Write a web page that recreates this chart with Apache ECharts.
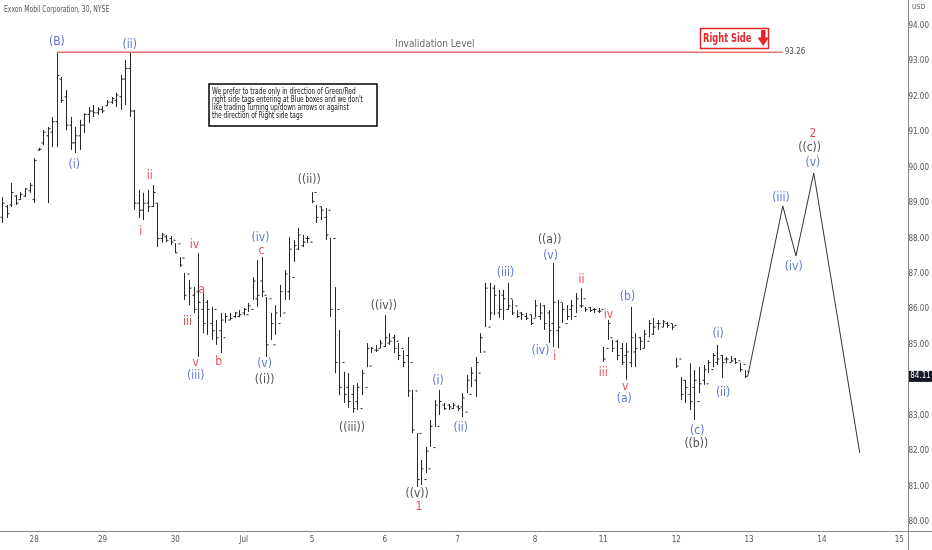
<!DOCTYPE html>
<html><head><meta charset="utf-8">
<script src="https://cdn.jsdelivr.net/npm/echarts@6/dist/echarts.min.js"></script>
<style>html,body{margin:0;padding:0;background:#fff}#c{width:932px;height:550px}</style>
</head><body><div id="c"></div>
<script>
const FONT = "'Liberation Sans Narrow','DejaVu Sans Condensed','Liberation Sans',sans-serif";

const chartTitle = 'Exxon Mobil Corporation, 30, NYSE';
const currency = 'USD';
const dayLabels   = ['28','29','30','Jul','5','6','7','8','11','12','13','14','15'];
const dayStartBar = [8, 23, 39, 54, 69, 85, 101, 118, 133, 149, 165, 181, 198];
const priceTicks  = [80,81,82,83,84,85,86,87,88,89,90,91,92,93,94];

// OHLC bars (one per bar index, starting at index 1)
const open = [
 88.6,88.9,88.95,89.2,89.1,89.2,89.35,
 89.1,90.5,90.7,90.9,91.0,91.3,92.5,92.0,91.2,90.7,90.9,91.2,91.5,91.6,91.55,
 91.65,91.75,91.85,91.9,92.0,92.5,92.8,91.6,89.0,88.8,89.0,88.9,89.0,88.0,88.05,88.0,
 87.95,87.85,87.45,87.0,86.4,86.5,86.0,86.2,85.6,86.0,85.4,85.2,85.7,85.8,85.8,
 85.9,85.85,86.0,86.3,86.8,86.4,86.3,85.0,85.6,85.9,86.5,86.9,87.7,87.8,88.0,87.9,
 89.3,88.9,88.6,88.8,88.0,86.0,84.5,83.8,83.6,83.4,83.2,83.8,84.4,84.85,84.9,84.95,
 85.05,85.2,85.1,84.9,84.7,84.5,83.7,82.5,81.2,81.5,82.1,82.7,83.3,83.3,83.2,83.25,
 83.25,83.1,83.6,84.0,84.2,84.8,85.5,86.6,85.9,86.4,86.0,86.3,86.1,85.9,85.8,85.85,
 85.75,85.8,86.1,85.9,85.6,85.4,86.2,85.6,86.0,85.8,86.1,86.3,86.05,86.0,85.95,86.0,
 84.9,85.2,85.1,84.9,84.7,84.5,84.8,85.2,84.9,85.1,85.3,85.6,85.5,85.6,85.6,85.55,
 84.6,84.0,83.6,83.8,83.4,84.0,83.9,84.3,84.5,84.7,84.6,84.5,84.6,84.55,84.45,84.25
];
const high = [
 89.17,88.95,89.57,89.23,89.31,89.43,89.57,
 90.27,90.56,91.06,91.15,91.43,93.26,92.56,92.19,91.43,91.15,91.35,91.54,91.71,91.77,91.71,
 91.74,91.91,91.99,92.11,92.62,93.04,93.24,91.63,89.37,89.29,89.37,89.51,89.00,88.16,88.10,88.07,
 87.87,87.48,87.03,86.83,86.63,87.59,86.46,86.27,86.07,85.70,85.90,85.90,85.90,85.93,85.98,
 86.04,86.18,86.91,87.39,87.48,86.35,85.90,86.12,86.69,87.11,88.04,87.96,88.30,88.10,88.07,
 89.31,88.95,88.89,88.86,88.02,86.63,85.42,84.24,84.20,83.87,83.92,84.29,85.05,84.94,84.99,85.14,
 85.84,85.33,85.28,85.05,84.85,85.22,83.73,82.51,81.75,82.12,82.88,83.44,83.73,83.36,83.33,83.36,
 83.30,83.64,84.15,84.37,84.66,85.33,86.75,86.75,86.69,86.55,86.55,86.75,86.27,85.98,85.93,85.90,
 85.84,86.27,86.18,86.12,85.98,87.31,86.27,86.18,86.12,86.27,86.46,86.60,86.07,86.07,86.04,86.04,
 84.94,85.70,85.14,85.14,85.05,85.05,86.07,85.33,85.22,85.42,85.70,85.76,85.70,85.70,85.64,85.59,
 84.63,84.09,84.01,84.48,84.29,84.37,84.43,84.57,84.77,85.00,84.71,84.66,84.68,84.63,84.49,84.29
];
const low = [
 88.44,88.58,88.89,88.95,89.09,89.17,89.29,
 89.00,90.48,90.64,89.00,90.58,90.58,91.83,91.06,90.50,90.41,90.50,90.98,91.26,91.43,91.49,
 91.54,91.74,91.80,91.71,91.63,91.77,91.43,88.81,88.58,88.52,88.75,88.89,87.76,87.88,87.90,87.82,
 87.59,87.20,86.27,86.12,85.90,84.66,85.33,85.28,85.14,85.00,84.77,85.62,85.70,85.76,85.78,
 85.84,85.93,86.27,86.07,86.35,84.66,85.14,85.28,85.78,86.27,86.27,87.34,87.68,87.76,87.87,
 89.00,88.44,88.52,87.96,85.79,84.20,83.58,83.36,83.22,83.08,83.16,83.58,84.37,84.77,84.80,84.91,
 84.94,85.00,84.77,84.57,84.37,83.53,82.51,80.99,81.04,81.38,82.12,82.68,83.02,83.16,83.16,83.19,
 83.13,82.96,83.64,83.81,83.53,84.77,85.50,85.70,85.84,85.76,85.70,85.98,85.84,85.76,85.70,85.70,
 85.56,85.78,85.70,85.42,85.05,84.94,84.91,85.62,85.70,85.70,85.90,86.04,85.93,85.93,85.90,85.90,
 84.52,85.14,84.80,84.57,84.43,84.01,84.37,84.37,84.85,84.91,85.22,85.28,85.42,85.50,85.48,85.42,
 84.35,83.44,83.36,83.16,82.88,83.64,83.87,84.20,84.37,84.43,84.06,84.48,84.52,84.46,84.24,84.06
];
const close = [
 89.0,88.7,89.3,89.0,89.25,89.4,89.5,
 90.2,90.52,91.0,91.1,91.3,92.6,91.9,91.2,90.7,90.9,91.2,91.5,91.6,91.55,91.65,
 91.6,91.85,91.95,92.05,92.5,92.8,91.6,89.0,88.8,89.0,88.9,89.3,88.0,88.1,87.95,87.9,
 87.6,87.25,86.4,86.6,86.0,86.2,85.6,86.0,85.4,85.2,85.7,85.8,85.75,85.9,85.85,
 86.0,86.1,86.8,86.4,86.5,85.0,85.6,85.9,86.5,87.0,87.7,87.8,88.1,87.9,88.0,
 89.05,88.6,88.8,88.1,86.0,84.5,83.8,83.6,83.4,83.2,83.8,84.2,84.9,84.9,84.85,85.05,
 85.2,85.1,84.9,84.7,84.5,83.7,82.6,81.2,81.5,82.0,82.7,83.3,83.4,83.2,83.25,83.3,
 83.2,83.5,84.0,84.2,84.5,85.2,86.6,85.9,86.4,86.0,86.3,86.1,85.9,85.8,85.85,85.75,
 85.6,86.1,85.9,85.6,85.4,86.2,85.5,86.0,85.8,86.1,86.3,86.1,86.0,85.97,86.0,85.95,
 84.6,85.6,84.9,84.7,84.5,84.8,85.2,84.9,85.1,85.3,85.6,85.5,85.6,85.65,85.55,85.5,
 84.4,83.6,83.8,83.4,84.0,83.9,84.3,84.5,84.7,84.6,84.5,84.6,84.55,84.5,84.3,84.11
];

const invalidationLevel = 93.26;
const invalidationSpan  = [13, 172.4];          // bar index from (B) to end of line
const invalidationText  = 'Invalidation Level';
const projectionBar   = [164.7, 172.4, 175.3, 179.2, 189.3];
const projectionPrice = [84.11, 88.92, 87.51, 89.85, 81.95];

// wave labels: [bar index, price, text]
const blueLabels = [
 [13.0,93.55,'(B)'],[29.0,93.46,'(ii)'],[16.8,90.08,'(i)'],[43.5,84.12,'(iii)'],
 [57.7,88.02,'(iv)'],[58.6,84.46,'(v)'],[96.7,83.98,'(i)'],[101.7,82.65,'(ii)'],
 [111.5,87.03,'(iii)'],[121.4,87.51,'(v)'],[119.2,84.83,'(iv)'],[137.6,83.47,'(a)'],
 [138.3,86.35,'(b)'],[153.6,82.57,'(c)'],[158.2,85.31,'(i)'],[159.3,83.64,'(ii)'],
 [172.0,89.14,'(iii)'],[174.8,87.20,'(iv)'],[179.0,90.13,'(v)']
];
const redLabels = [
 [33.4,89.76,'ii'],[31.4,88.18,'i'],[43.2,87.82,'iv'],[44.8,86.55,'a'],[41.7,85.65,'iii'],
 [43.5,84.49,'v'],[48.5,84.52,'b'],[57.9,87.65,'c'],[92.5,80.42,'1'],[122.3,84.66,'i'],
 [128.2,86.83,'ii'],[134.1,85.84,'iv'],[133.0,84.21,'iii'],[137.8,83.81,'v'],[179.0,90.95,'2']
];
const blackLabels = [
 [58.6,84.01,'((i))'],[68.4,89.65,'((ii))'],[77.8,82.65,'((iii))'],[84.8,86.10,'((iv))'],
 [92.1,80.79,'((v))'],[121.2,87.96,'((a))'],[153.4,82.20,'((b))'],[178.3,90.56,'((c))']
];
const noteLines = [
 'We prefer to trade only in direction of Green/Red',
 "right side tags entering at Blue boxes and we don't",
 'like trading Turning up/down arrows or against',
 'the direction of Right side tags'
];
const tagText = 'Right Side';

const ohlcData = open.map((o, i) => [i + 1, o, high[i], low[i], close[i]]);
const BAR = '#262626';
function renderOHLC(params, api) {
  const x = api.value(0);
  const h = api.coord([x, api.value(2)]);
  const l = api.coord([x, api.value(3)]);
  const o = api.coord([x, api.value(1)]);
  const c = api.coord([x, api.value(4)]);
  const px = Math.round(h[0]) + 0.5;
  const st = { stroke: BAR, lineWidth: 1 };
  return { type: 'group', children: [
    { type: 'line', shape: { x1: px, y1: h[1], x2: px, y2: Math.max(l[1], h[1] + 1) }, style: st },
    { type: 'line', shape: { x1: px - 2, y1: o[1], x2: px, y2: o[1] }, style: st },
    { type: 'line', shape: { x1: px, y1: c[1], x2: px + 2, y2: c[1] }, style: st }
  ]};
}
function labelSeries(list, color, size, weight) {
  return {
    type: 'scatter', silent: true, symbol: 'circle', symbolSize: 1,
    itemStyle: { color: 'rgba(0,0,0,0)' },
    data: list.map(d => ({ value: [d[0], d[1]], name: d[2] })),
    label: { show: true, position: 'inside', formatter: '{b}', color: color,
      fontSize: size, fontWeight: weight || 'normal', fontFamily: FONT },
    emphasis: { disabled: true }, z: 5
  };
}

const chart = echarts.init(document.getElementById('c'), null, { renderer: 'canvas' });
chart.setOption({
  animation: false,
  backgroundColor: '#fff',
  grid: { left: 0, right: 24, top: 0, bottom: 19 },
  xAxis: {
    type: 'value', min: 0.5, max: 199.33,
    axisLine: { show: false }, axisTick: { show: false }, splitLine: { show: false },
    axisLabel: { customValues: dayStartBar, margin: 5, fontSize: 8, color: '#555', fontFamily: FONT,
      formatter: v => dayLabels[dayStartBar.indexOf(Math.round(v))] || '' }
  },
  yAxis: {
    type: 'value', position: 'right', min: 79.746, max: 94.733,
    axisLine: { show: false }, axisTick: { show: false }, splitLine: { show: false },
    axisLabel: { customValues: priceTicks, margin: 3, fontSize: 8, color: '#555', fontFamily: FONT,
      formatter: v => v.toFixed(2) }
  },
  series: [
    { type: 'custom', renderItem: renderOHLC, data: ohlcData, encode: { x: 0, y: [2, 3] }, silent: true, z: 3 },
    { type: 'line', silent: true, symbol: 'none', z: 4,
      data: [[invalidationSpan[0], invalidationLevel], [invalidationSpan[1], invalidationLevel]],
      lineStyle: { color: '#f07070', width: 1.5 },
      endLabel: { show: true, formatter: invalidationLevel.toFixed(2), color: '#444', fontSize: 8,
        fontFamily: FONT, distance: 2 } },
    { type: 'line', silent: true, symbol: 'none', z: 4,
      data: projectionBar.map((b, i) => [b, projectionPrice[i]]),
      lineStyle: { color: '#333', width: 1 } },
    labelSeries([[96.0, 93.49, invalidationText]], '#444', 10),
    labelSeries(blueLabels, '#3556c4', 12),
    labelSeries(redLabels, '#df1f26', 12),
    labelSeries(blackLabels, '#1e1e1e', 12)
  ]
});

const lastPrice = close[close.length - 1];
const tagY = chart.convertToPixel({ yAxisIndex: 0 }, lastPrice);
const noteEls = noteLines.map((t, i) => ({
  type: 'text', x: 212, y: 87 + i * 8.2, z: 11, scaleX: 0.77, originX: 0,
  style: { text: t, fontSize: 8.5, fontFamily: FONT, fill: '#111' }
}));
chart.setOption({ graphic: { elements: [
  { type: 'text', x: 4, y: 6, scaleX: 0.84, style: { text: chartTitle, fontSize: 8, fill: '#555', fontFamily: FONT }, z: 10 },
  { type: 'line', shape: { x1: 0, y1: 531.5, x2: 932, y2: 531.5 }, style: { stroke: '#888', lineWidth: 1 }, z: 10 },
  { type: 'line', shape: { x1: 908.5, y1: 0, x2: 908.5, y2: 550 }, style: { stroke: '#888', lineWidth: 1 }, z: 10 },
  { type: 'text', x: 912, y: 4, style: { text: currency, fontSize: 7, fill: '#555', fontFamily: FONT }, z: 10 },
  { type: 'rect', shape: { x: 209, y: 84, width: 168, height: 42 },
    style: { fill: '#fff', stroke: '#000', lineWidth: 1.5 }, z: 10 },
  ...noteEls,
  { type: 'rect', shape: { x: 700.5, y: 28.5, width: 68, height: 20 },
    style: { fill: '#fff', stroke: '#e3262b', lineWidth: 1.5 }, z: 10 },
  { type: 'text', x: 703, y: 38.5, z: 11, scaleX: 0.74,
    style: { text: tagText, fontSize: 12.5, fontWeight: 'bold', fill: '#e3262b', fontFamily: FONT, verticalAlign: 'middle' } },
  { type: 'polygon', z: 11,
    shape: { points: [[761,30],[765.5,30],[765.5,37.5],[769,37.5],[763.2,46],[757.5,37.5],[761,37.5]] },
    style: { fill: '#e3262b' } },
  { type: 'rect', shape: { x: 909, y: tagY - 5.5, width: 23, height: 11 }, style: { fill: '#131722' }, z: 12 },
  { type: 'text', x: 920.5, y: tagY, z: 13,
    style: { text: lastPrice.toFixed(2), fontSize: 8, fill: '#fff', fontFamily: FONT, align: 'center', verticalAlign: 'middle' } }
]}});
</script></body></html>
